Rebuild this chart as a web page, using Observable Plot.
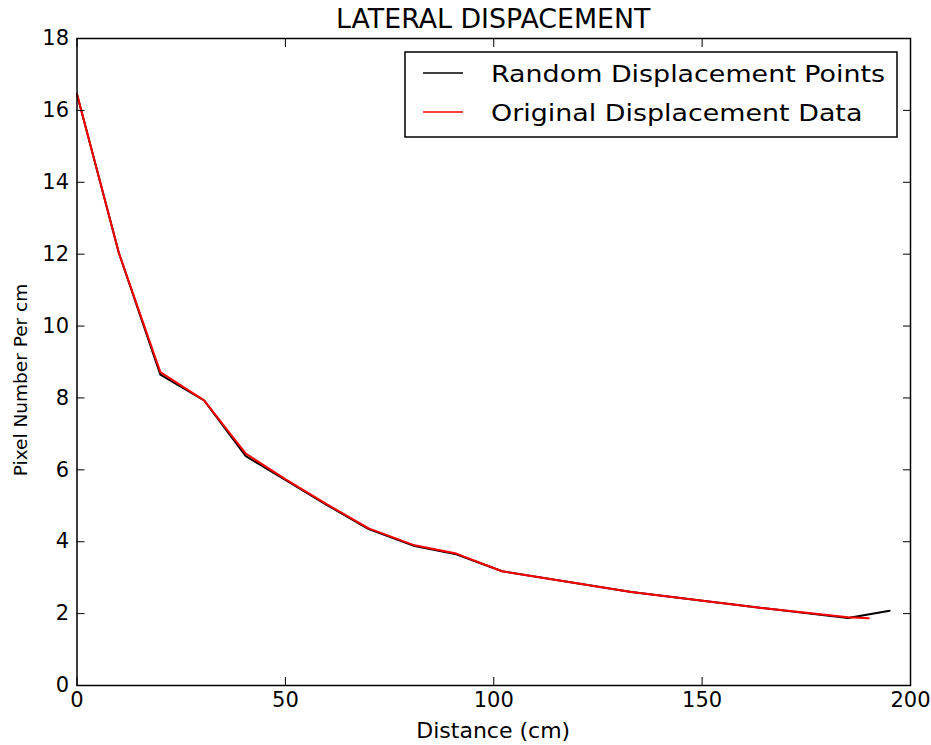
<!DOCTYPE html>
<html>
<head>
<meta charset="utf-8">
<script src="https://cdn.jsdelivr.net/npm/d3@7"></script>
<script src="https://cdn.jsdelivr.net/npm/@observablehq/plot@0.6"></script>
<style>
  html, body { margin: 0; padding: 0; background: #fff; }
  #chart { width: 931px; height: 745px; }
</style>
</head>
<body>
<div id="chart"></div>
<script>
// Sampled displacement (black) and original displacement (red), pixels per cm vs distance
const distRandom = [0, 10, 20, 30.5, 40.5, 50, 60, 70, 81, 91, 102, 133, 165, 185, 195];
const pxRandom   = [16.45, 12.05, 8.65, 7.93, 6.38, 5.72, 5.02, 4.35, 3.88, 3.65, 3.18, 2.6, 2.15, 1.88, 2.08];
const distOriginal = [0, 10, 20, 30.5, 40.5, 50, 60, 70, 81, 91, 102, 133, 165, 185, 190];
const pxOriginal   = [16.45, 12.05, 8.72, 7.93, 6.45, 5.74, 5.04, 4.37, 3.9, 3.67, 3.18, 2.6, 2.15, 1.9, 1.87];

const xTicks = [0, 50, 100, 150, 200];
const yTicks = [0, 2, 4, 6, 8, 10, 12, 14, 16, 18];

const titleText = "LATERAL DISPACEMENT";
const xLabel = "Distance (cm)";
const yLabel = "Pixel Number Per cm";
const seriesNames = ["Random Displacement Points", "Original Displacement Data"];
const seriesColors = ["#000000", "#ff0000"];

const toRows = (xs, ys) => xs.map((x, i) => ({x, y: ys[i]}));

const W = 931, H = 745;
const mL = 76.5, mR = 21, mT = 38, mB = 60;
const font = "'DejaVu Sans', sans-serif";

const svg = Plot.plot({
  width: W,
  height: H,
  marginLeft: mL,
  marginRight: mR,
  marginTop: mT,
  marginBottom: mB,
  style: {fontFamily: font, fontSize: "21px", color: "#000", background: "#fff"},
  x: {domain: [0, 200]},
  y: {domain: [0, 18]},
  marks: [
    Plot.line(toRows(distRandom, pxRandom), {x: "x", y: "y", stroke: seriesColors[0], strokeWidth: 2}),
    Plot.line(toRows(distOriginal, pxOriginal), {x: "x", y: "y", stroke: seriesColors[1], strokeWidth: 2}),
    // tick labels
    Plot.axisX(xTicks, {tickSize: 0, tickPadding: 7, label: null}),
    Plot.axisY(yTicks, {tickSize: 0, tickPadding: 8, label: null}),
    // inward tick marks on all four sides
    Plot.axisX(xTicks, {anchor: "bottom", tickSize: -8, tickFormat: () => "", label: null}),
    Plot.axisX(xTicks, {anchor: "top", tickSize: -8, tickFormat: () => "", label: null}),
    Plot.axisY(yTicks, {anchor: "left", tickSize: -8, tickFormat: () => "", label: null}),
    Plot.axisY(yTicks, {anchor: "right", tickSize: -8, tickFormat: () => "", label: null}),
    Plot.frame({stroke: "#000", strokeWidth: 1.5})
  ]
});

const s = d3.select(svg);
const cx = mL + (W - mL - mR) / 2;

// title
s.append("text")
  .attr("x", cx).attr("y", 28)
  .attr("text-anchor", "middle")
  .style("font-family", font).style("font-size", "26.8px").attr("fill", "#000")
  .text(titleText);

// axis labels
s.append("text")
  .attr("x", cx).attr("y", 738)
  .attr("text-anchor", "middle")
  .style("font-family", font).style("font-size", "22px").attr("fill", "#000")
  .text(xLabel);
s.append("text")
  .attr("transform", "translate(26.5,380) rotate(-90)")
  .attr("text-anchor", "middle")
  .style("font-family", font).style("font-size", "18.5px").attr("fill", "#000")
  .text(yLabel);

// legend box in the upper right of the axes
const lg = s.append("g");
lg.append("rect")
  .attr("x", 405).attr("y", 52).attr("width", 492).attr("height", 85)
  .attr("fill", "#fff").attr("stroke", "#000").attr("stroke-width", 1.5);
seriesNames.forEach((name, i) => {
  const ly = 73 + i * 39;
  lg.append("line")
    .attr("x1", 423).attr("x2", 463).attr("y1", ly).attr("y2", ly)
    .attr("stroke", seriesColors[i]).attr("stroke-width", 1.5);
  lg.append("text")
    .attr("transform", `translate(491,${ly + 8.5}) scale(1,0.88)`)
    .attr("text-anchor", "start")
    .style("font-family", font).style("font-size", "26.9px").attr("fill", "#000")
    .text(name);
});

document.getElementById("chart").appendChild(svg);
</script>
</body>
</html>
